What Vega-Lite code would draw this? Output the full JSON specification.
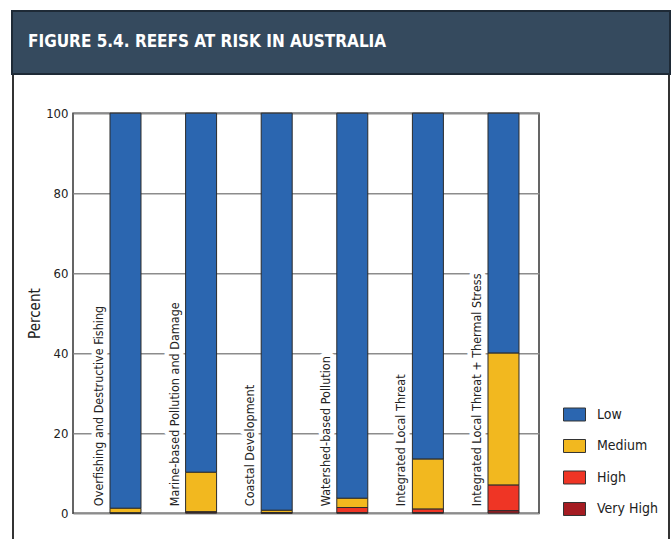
{
  "$schema": "https://vega.github.io/schema/vega-lite/v6.json",
  "padding": {"left": 11, "top": 10, "right": 0, "bottom": 0},
  "background": "white",
  "config": {
    "view": {"stroke": null},
    "font": "DejaVu Sans Condensed, sans-serif"
  },
  "datasets": {
    "reefs": [
      {"threat": "Overfishing and Destructive Fishing", "risk": "Low", "percent": 98.8},
      {"threat": "Overfishing and Destructive Fishing", "risk": "Medium", "percent": 1.2},
      {"threat": "Overfishing and Destructive Fishing", "risk": "High", "percent": 0},
      {"threat": "Overfishing and Destructive Fishing", "risk": "Very High", "percent": 0},
      {"threat": "Marine-based Pollution and Damage", "risk": "Low", "percent": 89.8},
      {"threat": "Marine-based Pollution and Damage", "risk": "Medium", "percent": 9.9},
      {"threat": "Marine-based Pollution and Damage", "risk": "High", "percent": 0.1},
      {"threat": "Marine-based Pollution and Damage", "risk": "Very High", "percent": 0.2},
      {"threat": "Coastal Development", "risk": "Low", "percent": 99.3},
      {"threat": "Coastal Development", "risk": "Medium", "percent": 0.6},
      {"threat": "Coastal Development", "risk": "High", "percent": 0.05},
      {"threat": "Coastal Development", "risk": "Very High", "percent": 0.05},
      {"threat": "Watershed-based Pollution", "risk": "Low", "percent": 96.3},
      {"threat": "Watershed-based Pollution", "risk": "Medium", "percent": 2.3},
      {"threat": "Watershed-based Pollution", "risk": "High", "percent": 1.3},
      {"threat": "Watershed-based Pollution", "risk": "Very High", "percent": 0.1},
      {"threat": "Integrated Local Threat", "risk": "Low", "percent": 86.5},
      {"threat": "Integrated Local Threat", "risk": "Medium", "percent": 12.5},
      {"threat": "Integrated Local Threat", "risk": "High", "percent": 0.9},
      {"threat": "Integrated Local Threat", "risk": "Very High", "percent": 0.1},
      {"threat": "Integrated Local Threat + Thermal Stress", "risk": "Low", "percent": 60},
      {"threat": "Integrated Local Threat + Thermal Stress", "risk": "Medium", "percent": 33},
      {"threat": "Integrated Local Threat + Thermal Stress", "risk": "High", "percent": 6.4},
      {"threat": "Integrated Local Threat + Thermal Stress", "risk": "Very High", "percent": 0.6}
    ]
  },
  "spacing": 0,
  "vconcat": [
    {
      "width": 658,
      "height": 63,
      "data": {"values": [{}]},
      "title": {
        "text": "FIGURE 5.4.  REEFS AT RISK IN AUSTRALIA",
        "anchor": "start",
        "frame": "group",
        "orient": "top",
        "offset": -54,
        "dx": 16,
        "color": "white",
        "fontSize": 17,
        "fontWeight": "bold",
        "baseline": "alphabetic"
      },
      "mark": {"type": "rect", "color": "#354a5e", "stroke": "#1e2a36", "strokeWidth": 2}
    },
    {
      "spacing": 12,
      "hconcat": [
        {
          "width": 2,
          "height": 484,
          "data": {"values": [{}]},
          "mark": {"type": "rect", "color": "#333333"}
        },
        {
          "spacing": 128,
          "center": true,
          "hconcat": [
            {
              "width": 466,
              "height": 400,
              "view": {"stroke": "#333333", "strokeWidth": 1.5},
              "data": {"name": "reefs"},
              "encoding": {
                "x": {
                  "field": "threat",
                  "type": "nominal",
                  "sort": null,
                  "axis": null,
                  "scale": {"paddingInner": 0.59, "paddingOuter": 0.377, "align": 0.649}
                }
              },
              "layer": [
                {
                  "transform": [{"filter": "datum.risk === 'Low'"}],
                  "mark": {"type": "text", "angle": 270, "align": "left", "baseline": "alphabetic", "dx": 7, "dy": -22.5, "fontSize": 12.5, "fill": "white", "stroke": "white", "strokeWidth": 9, "strokeJoin": "round"},
                  "encoding": {
                    "y": {"datum": 0, "type": "quantitative"},
                    "text": {"field": "threat"}
                  }
                },
                {
                  "transform": [{"calculate": "indexof(['Very High', 'High', 'Medium', 'Low'], datum.risk)", "as": "stackRank"}],
                  "mark": {"type": "bar", "stroke": "#2b2b2b", "strokeWidth": 1},
                  "encoding": {
                    "y": {
                      "field": "percent",
                      "type": "quantitative",
                      "stack": "zero",
                      "title": "Percent",
                      "scale": {"domain": [0, 100], "nice": false},
                      "axis": {
                        "values": [0, 20, 40, 60, 80, 100],
                        "grid": true,
                        "gridColor": "#8c8c8c",
                        "gridWidth": 1.5,
                        "domain": false,
                        "ticks": false,
                        "labelPadding": 5,
                        "labelFontSize": 13,
                        "labelColor": "#222222",
                        "title": "Percent",
                        "titleFontSize": 15,
                        "titleFontWeight": "normal",
                        "titleColor": "#222222",
                        "titlePadding": 3
                      }
                    },
                    "order": {"field": "stackRank", "type": "quantitative", "sort": "ascending"},
                    "color": {
                      "field": "risk",
                      "type": "nominal",
                      "sort": ["Low", "Medium", "High", "Very High"],
                      "scale": {
                        "domain": ["Low", "Medium", "High", "Very High"],
                        "range": ["#2b66b0", "#f2b81f", "#ef3525", "#a51c22"]
                      },
                      "legend": {
                        "title": null,
                        "orient": "none",
                        "legendX": 551,
                        "legendY": 392,
                        "padding": 0,
                        "symbolType": "M-1,-0.59H1V0.59H-1Z",
                        "symbolSize": 484,
                        "symbolStrokeColor": "#333333",
                        "symbolStrokeWidth": 1,
                        "symbolOpacity": 1,
                        "labelFontSize": 14,
                        "labelColor": "#222222",
                        "labelOffset": 11,
                        "rowPadding": 11.5
                      }
                    }
                  }
                },
                {
                  "transform": [{"filter": "datum.risk === 'Low'"}],
                  "mark": {"type": "text", "angle": 270, "align": "left", "baseline": "alphabetic", "dx": 7, "dy": -22.5, "fontSize": 12.5, "fill": "#222222"},
                  "encoding": {
                    "y": {"datum": 0, "type": "quantitative"},
                    "text": {"field": "threat"}
                  }
                }
              ]
            },
            {
              "width": 2,
              "height": 484,
              "data": {"values": [{}]},
              "mark": {"type": "rect", "color": "#333333"}
            }
          ]
        }
      ]
    }
  ]
}
